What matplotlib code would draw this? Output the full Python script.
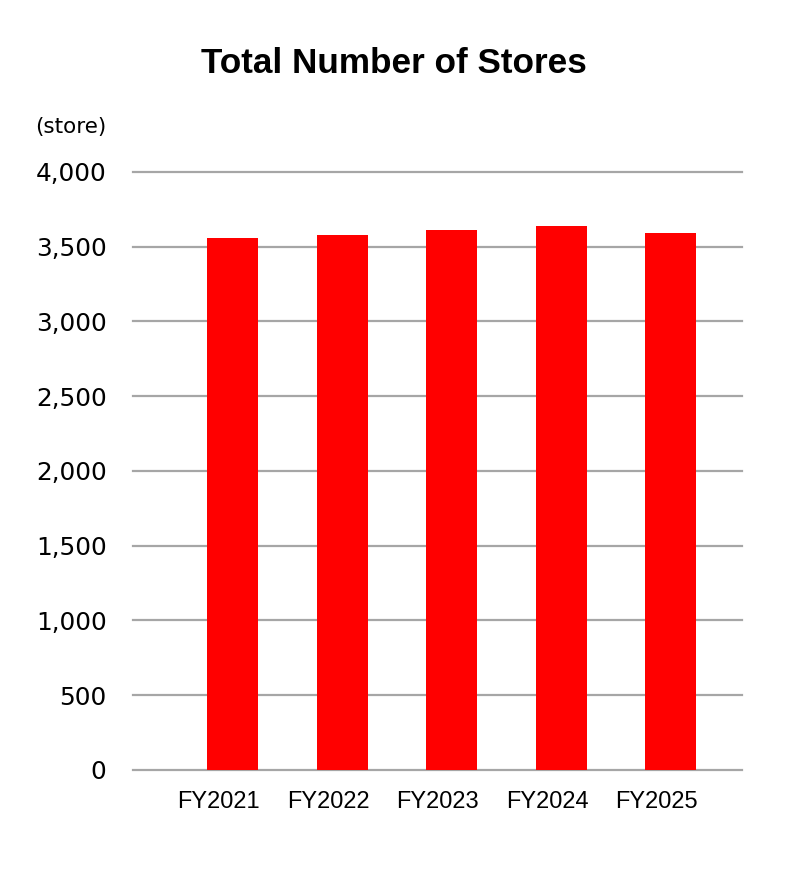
import matplotlib
matplotlib.use('Agg')
import matplotlib.pyplot as plt
from matplotlib.transforms import ScaledTranslation

# store counts per fiscal year
years = ['FY2021', 'FY2022', 'FY2023', 'FY2024', 'FY2025']
stores = [3558, 3578, 3610, 3638, 3590]
y_ticks = [0, 500, 1000, 1500, 2000, 2500, 3000, 3500, 4000]

plt.rcParams['font.family'] = ['Liberation Sans', 'DejaVu Sans']

fig = plt.figure(figsize=(7.87, 8.82), dpi=100)
ax = fig.add_axes([0.169, 0.127, 0.774, 0.678])

x = range(len(years))
ax.bar(x, stores, width=0.466, color='#ff0000', zorder=3)

ax.set_ylim(0, 4000)
ax.set_xlim(-0.909, 4.653)
ax.set_yticks(y_ticks)
ax.set_yticklabels([f'{v:,}' for v in y_ticks], fontsize=17.8,
                   family='DejaVu Sans')
ax.set_xticks(list(x))
ax.set_xticklabels(years, fontsize=17)
ax.tick_params(axis='y', length=0, pad=19)
ax.tick_params(axis='x', length=0, pad=15)

# x labels sit a bit left of the bar centres in the original
shift = ScaledTranslation(-14 / 100, 0, fig.dpi_scale_trans)
for lbl in ax.get_xticklabels():
    lbl.set_transform(lbl.get_transform() + shift)

ax.yaxis.grid(True, color='#a6a6a6', linewidth=1.6, zorder=0)
for line in ax.get_ygridlines():
    line.set_clip_on(False)
for side in ['top', 'right', 'left', 'bottom']:
    ax.spines[side].set_visible(False)

fig.text(0.5, 0.928, 'Total Number of Stores', ha='center', va='center',
         fontsize=25.3, fontweight='bold')
fig.text(0.044, 0.856, '(store)', ha='left', va='center', fontsize=15.5,
         family='DejaVu Sans')

fig.savefig('out.png', dpi=100)
